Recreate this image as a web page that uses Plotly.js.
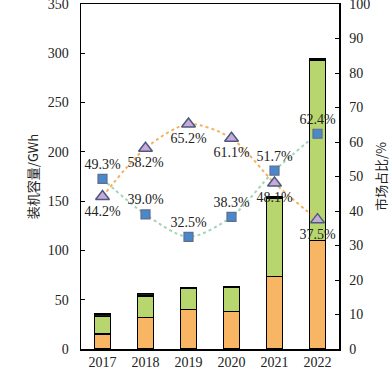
<!DOCTYPE html>
<html><head><meta charset="utf-8">
<script src="https://cdn.plot.ly/plotly-3.0.1.min.js"></script>
<style>html,body{margin:0;padding:0;background:#fff}#c{width:390px;height:382px}</style>
</head><body><div id="c"></div>
<script>
var years = ['2017','2018','2019','2020','2021','2022'];
var seriesA = [15, 32, 40, 38, 73.5, 110];
var seriesB = [18, 22, 21.5, 24.5, 79, 183];
var seriesC = [2.5, 2.5, 1, 1, 1.5, 1.5];
var shareSquare = [49.3, 39.0, 32.5, 38.3, 51.7, 62.4];
var shareTriangle = [44.2, 58.2, 65.2, 61.1, 48.1, 37.5];
var labelsSquare = shareSquare.map(function(v){return v.toFixed(1)+'%';});
var labelsTriangle = shareTriangle.map(function(v){return v.toFixed(1)+'%';});

var serif = '"Times New Roman", "Liberation Serif", "DejaVu Serif", serif';
var barLine = {color:'#000', width:1.5};
var traces = [
 {type:'bar', x:years, y:seriesA, marker:{color:'#f8b563', line:barLine}, width:0.38, hoverinfo:'skip'},
 {type:'bar', x:years, y:seriesB, marker:{color:'#b7d66e', line:barLine}, width:0.38, hoverinfo:'skip'},
 {type:'bar', x:years, y:seriesC, marker:{color:'#1a1a1a', line:barLine}, width:0.38, hoverinfo:'skip'},
 {type:'scatter', mode:'lines+markers+text', x:years, y:shareSquare, yaxis:'y2',
  line:{color:'#a6d4b8', width:2, dash:'dot', shape:'spline', smoothing:0.8},
  marker:{symbol:'square', size:9, color:'#4a88cc', line:{color:'#5e6e8c', width:1.2}},
  text:labelsSquare, textposition:'top center', textfont:{family:serif, size:14, color:'#222'}, cliponaxis:false},
 {type:'scatter', mode:'lines+markers+text', x:years, y:shareTriangle, yaxis:'y2',
  line:{color:'#f4b25e', width:2, dash:'dot', shape:'spline', smoothing:0.8},
  marker:{symbol:'triangle-up', size:12, color:'#c9aad6', line:{color:'#4c5a82', width:1.5}},
  text:labelsTriangle, textposition:'bottom center', textfont:{family:serif, size:14, color:'#222'}, cliponaxis:false}
];
var layout = {
 width:390, height:382, margin:{l:81, r:51, t:4, b:33},
 barmode:'stack', showlegend:false, plot_bgcolor:'#fff', paper_bgcolor:'#fff',
 font:{family:serif, size:14, color:'#222'},
 xaxis:{type:'category', showline:true, linecolor:'#000', linewidth:1.5, mirror:true, ticks:'', showgrid:false, zeroline:false,
        tickfont:{family:serif, size:14, color:'#222'}},
 yaxis:{range:[0,350.01], tickvals:[0,50,100,150,200,250,300,350], showline:true, linecolor:'#000', linewidth:1.5, ticks:'inside', ticklen:4, tickcolor:'#000',
        showgrid:false, zeroline:false, tickfont:{family:serif, size:14, color:'#222'}, ticklabelstandoff:8, ticklabeloverflow:'allow',
        title:{text:'装机容量/GWh', font:{family:'Noto Sans CJK SC', size:13, color:'#222'}, standoff:6}},
 yaxis2:{range:[0,100.01], tickvals:[0,10,20,30,40,50,60,70,80,90,100], overlaying:'y', side:'right', showline:true, linecolor:'#000', linewidth:1.5,
        ticks:'inside', ticklen:4, tickcolor:'#000', showgrid:false, zeroline:false, ticklabeloverflow:'allow',
        tickfont:{family:serif, size:14, color:'#222'}, ticklabelstandoff:6,
        title:{text:'市场占比/%', font:{family:'Noto Sans CJK SC', size:13, color:'#222'}, standoff:10}}
};
Plotly.newPlot('c', traces, layout, {displayModeBar:false, staticPlot:true});
</script></body></html>
